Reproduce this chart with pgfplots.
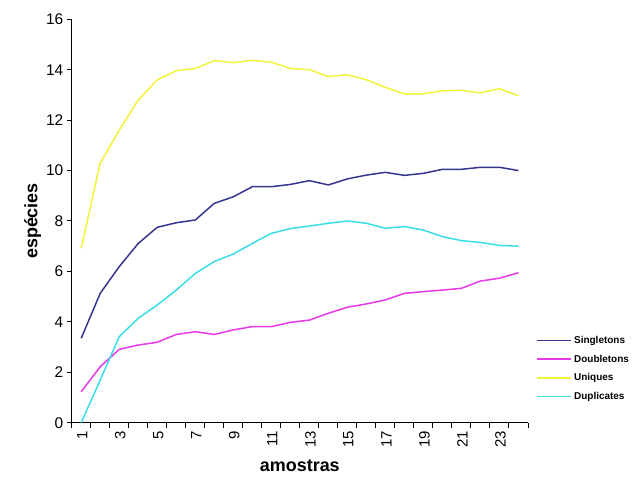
\documentclass[border=0pt]{standalone}
\usepackage{fontspec}
\setmainfont{Liberation Sans}
\usepackage{pgfplots}
\pgfplotsset{compat=1.18}
\definecolor{cSing}{HTML}{35358F}
\definecolor{cDoub}{HTML}{E838E8}
\definecolor{cUniq}{HTML}{F2F23A}
\definecolor{cDupl}{HTML}{3ADCE6}
\begin{document}
\begin{tikzpicture}
\path[use as bounding box] (0,0) rectangle (642bp,481bp);
\begin{axis}[
  at={(71.7bp,58.3bp)}, anchor=south west,
  scale only axis, width=456.3bp, height=403.4bp,
  xmin=0.5, xmax=24.5, ymin=0, ymax=16,
  axis lines=left, axis line style={-, black, line width=1.3pt},
  tick align=outside,
  tick style={black, line width=1pt},
  major tick length=5bp, minor tick length=5bp,
  xtick={1,3,...,23},
  major x tick style={draw=none},
  minor xtick={0.5,1.5,...,24.5},
  ytick={0,2,...,16},
  /pgf/number format/assume math mode=true,
  xticklabel style={rotate=90, anchor=east, font=\fontsize{15}{18}\selectfont, yshift=-1bp},
  yticklabel style={font=\fontsize{15.5}{18}\selectfont},
  xlabel={\textbf{amostras}},
  ylabel={\textbf{espécies}},
  xlabel style={font=\fontsize{18}{21}\selectfont, yshift=-5bp},
  ylabel style={font=\fontsize{18}{21}\selectfont, yshift=-2bp},
  legend style={at={(1.012,0.225)}, anchor=north west, draw=none, fill=none,
    font=\fontsize{10}{12}\bfseries, row sep=6bp},
  legend cell align=left,
  legend image code/.code={\draw[#1] (0bp,0bp) -- (34bp,0bp);},
  every axis plot/.append style={line width=1.5pt, line join=round},
]
\addplot[cSing] coordinates {(1,3.35)(2,5.13)(3,6.19)(4,7.11)(5,7.75)(6,7.93)(7,8.04)(8,8.7)(9,8.96)(10,9.36)(11,9.36)(12,9.45)(13,9.6)(14,9.43)(15,9.67)(16,9.82)(17,9.93)(18,9.81)(19,9.89)(20,10.05)(21,10.05)(22,10.13)(23,10.13)(24,10.0)};
\addlegendentry{Singletons}
\addplot[cDoub] coordinates {(1,1.23)(2,2.22)(3,2.91)(4,3.08)(5,3.19)(6,3.5)(7,3.61)(8,3.5)(9,3.68)(10,3.81)(11,3.81)(12,3.98)(13,4.07)(14,4.34)(15,4.58)(16,4.71)(17,4.87)(18,5.13)(19,5.2)(20,5.26)(21,5.33)(22,5.62)(23,5.73)(24,5.95)};
\addlegendentry{Doubletons}
\addplot[cUniq] coordinates {(1,6.92)(2,10.3)(3,11.6)(4,12.8)(5,13.6)(6,13.96)(7,14.05)(8,14.36)(9,14.28)(10,14.37)(11,14.3)(12,14.05)(13,14.0)(14,13.73)(15,13.8)(16,13.6)(17,13.3)(18,13.04)(19,13.04)(20,13.17)(21,13.18)(22,13.08)(23,13.25)(24,12.97)};
\addlegendentry{Uniques}
\addplot[cDupl] coordinates {(1,0)(2,1.69)(3,3.41)(4,4.14)(5,4.67)(6,5.26)(7,5.92)(8,6.39)(9,6.69)(10,7.11)(11,7.51)(12,7.7)(13,7.8)(14,7.91)(15,8.0)(16,7.91)(17,7.71)(18,7.78)(19,7.64)(20,7.38)(21,7.22)(22,7.15)(23,7.03)(24,7.0)};
\addlegendentry{Duplicates}
\end{axis}
\end{tikzpicture}
\end{document}
